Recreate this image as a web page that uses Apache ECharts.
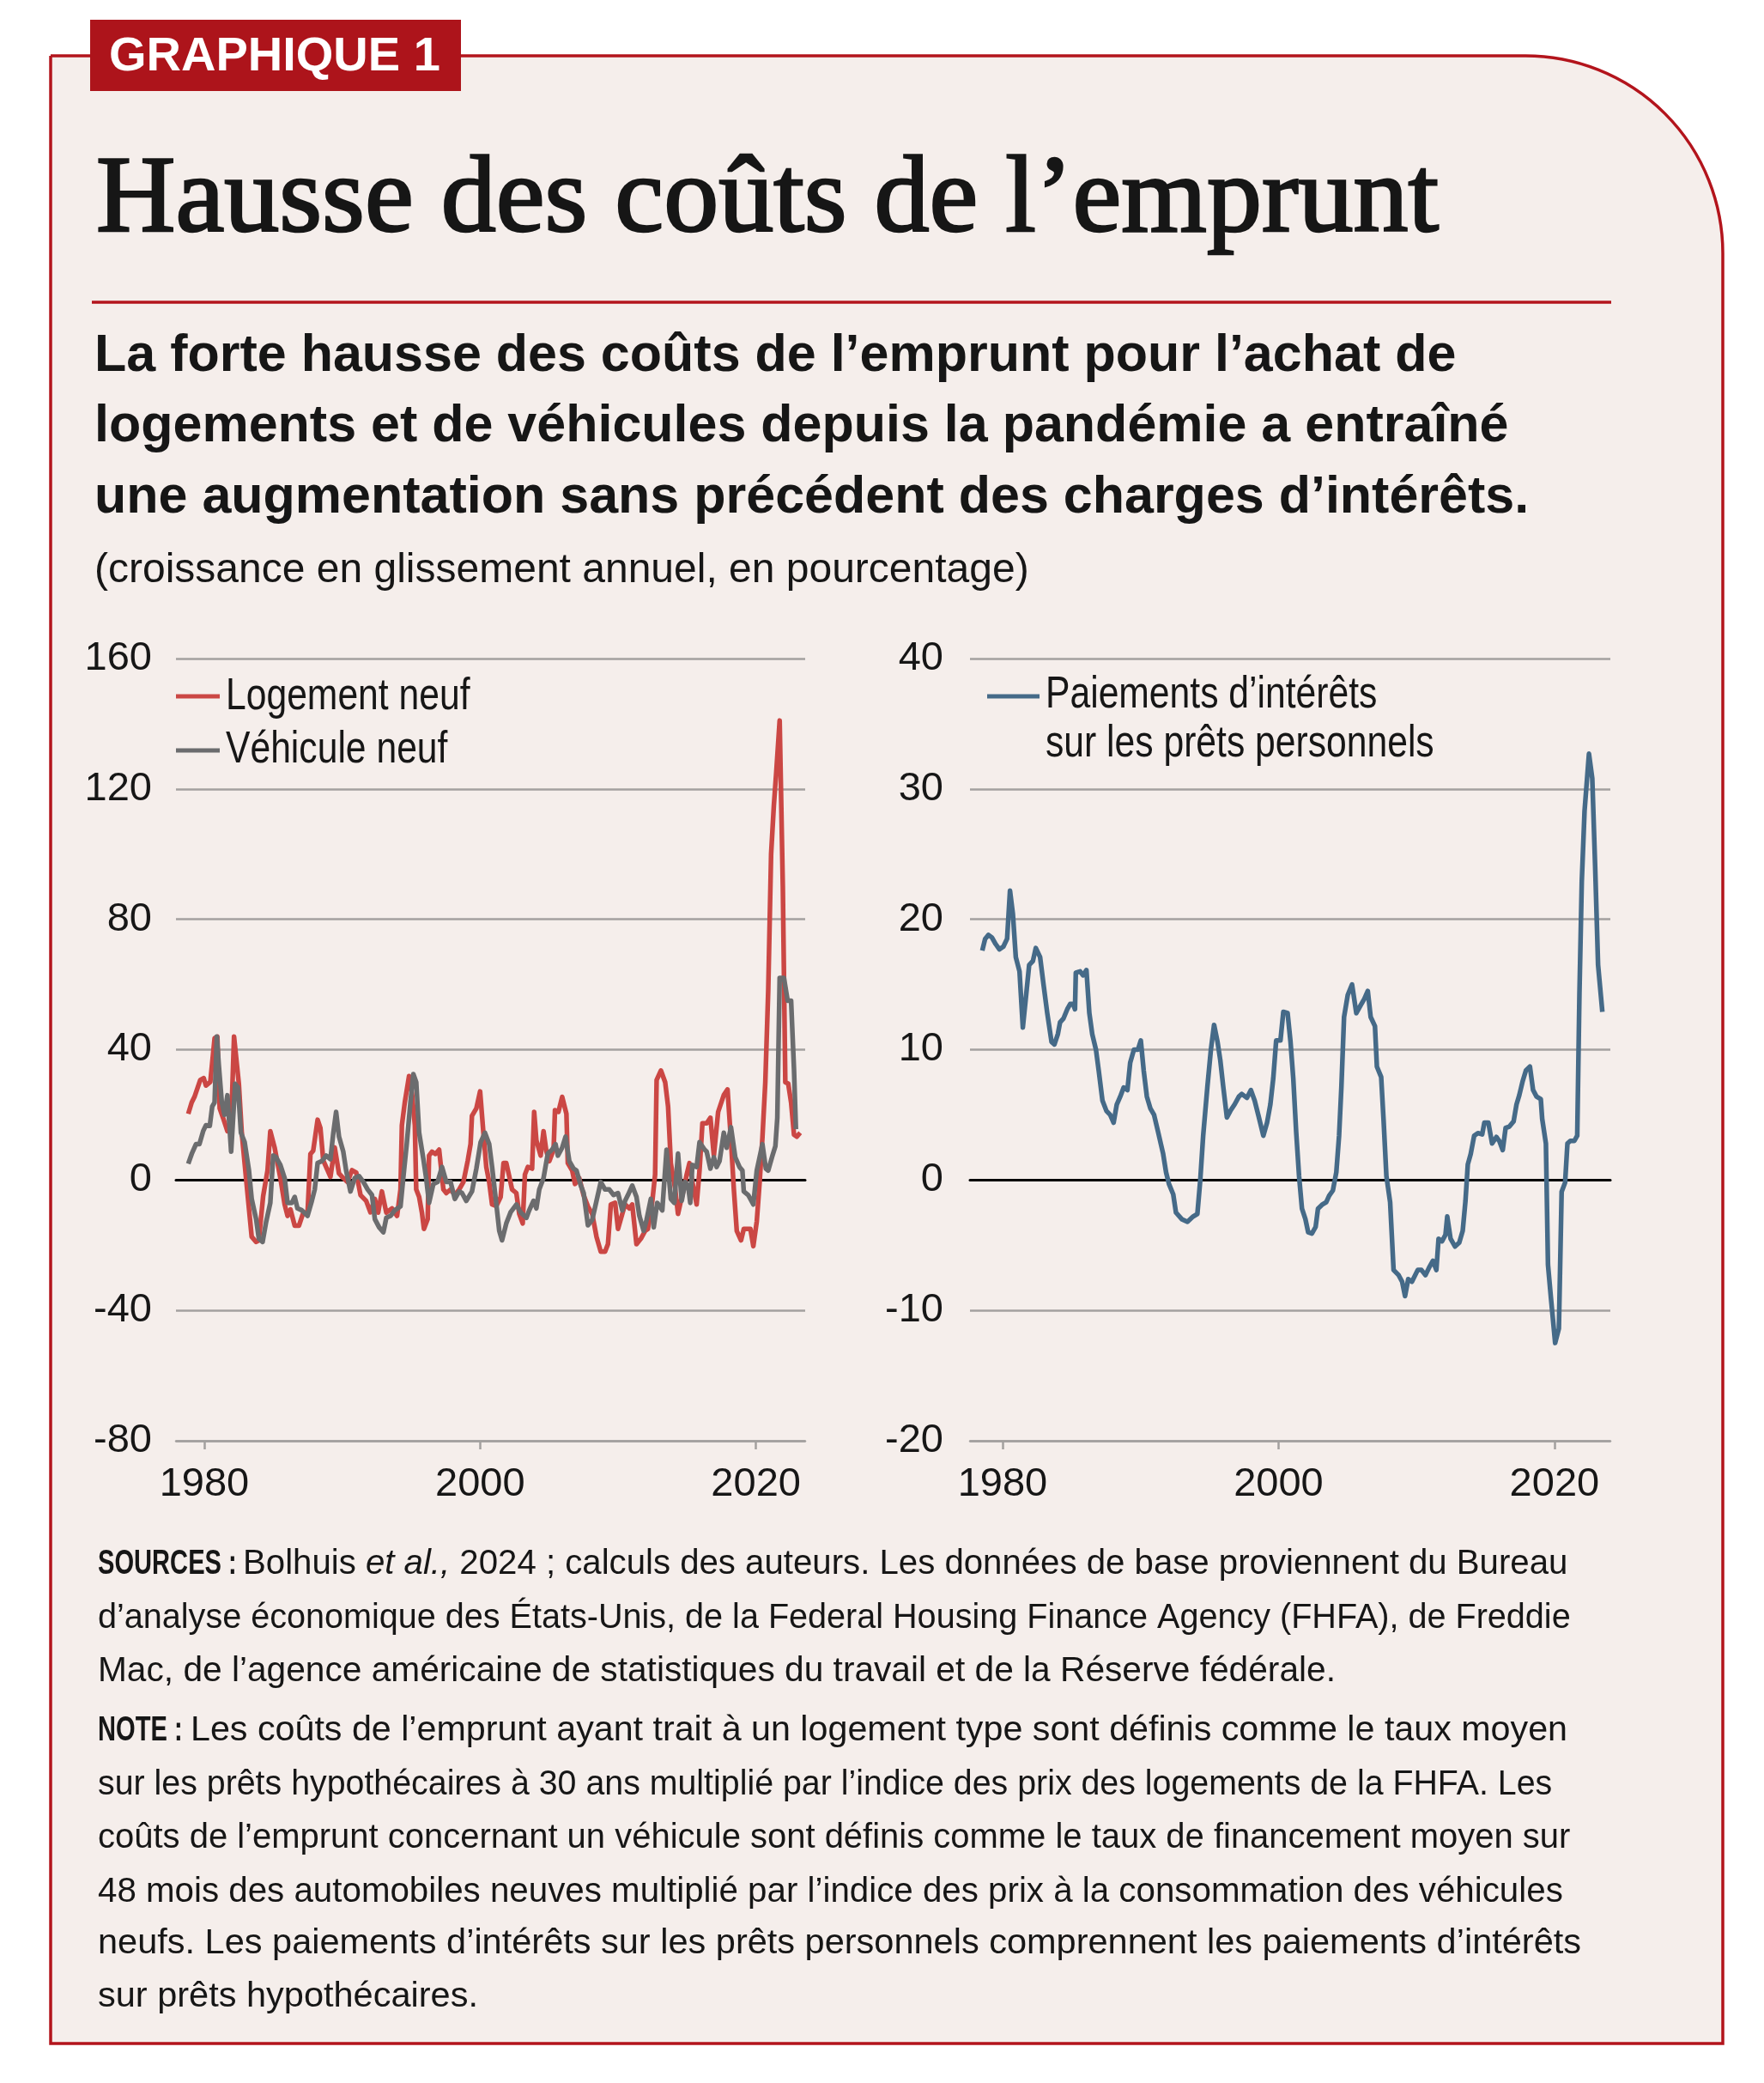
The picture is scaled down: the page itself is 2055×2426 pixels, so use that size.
<!DOCTYPE html>
<html>
<head>
<meta charset="utf-8">
<script src="https://cdn.jsdelivr.net/npm/echarts@6/dist/echarts.min.js"></script>
<style>
html,body{margin:0;padding:0;background:#ffffff;}
#chart{width:2055px;height:2426px;}
</style>
</head>
<body>
<div id="chart"></div>
<script>
// ---------- data (year as decimal, value in %) ----------
const xTickYears = [1980, 2000, 2020];
const leftYRange = { min: -80, max: 160, interval: 40 };
const rightYRange = { min: -20, max: 40, interval: 10 };

const logementNeuf = [
[1978.84,20.3],[1979.09,23.8],[1979.29,25.5],[1979.71,30.7],[1979.96,31.3],[1980.12,29],[1980.44,30.1],[1980.75,43.5],[1980.95,44],[1981.12,22],[1981.37,19],[1981.68,15],[1981.95,17],[1982.16,44],[1982.51,29.5],[1982.72,14.5],[1983.03,0.6],[1983.24,-8.7],[1983.44,-17.4],[1983.76,-19],[1983.96,-18.5],[1984.27,-5],[1984.59,3],[1984.79,15],[1985.1,10],[1985.52,0.6],[1985.83,-7.5],[1986.04,-11],[1986.25,-9],[1986.56,-14],[1986.87,-14],[1987.18,-10],[1987.49,-10],[1987.7,8],[1987.9,9],[1988.22,18.5],[1988.42,16],[1988.63,6],[1988.94,3],[1989.15,1],[1989.46,10],[1989.77,2],[1990.08,0.6],[1990.39,-0.6],[1990.71,3],[1991.02,2.3],[1991.33,-4.6],[1991.74,-6.4],[1992.05,-9.9],[1992.37,-5.8],[1992.61,-10],[1992.88,-3.5],[1993.2,-10],[1993.61,-8.7],[1993.98,-11],[1994.23,-2.9],[1994.33,16.8],[1994.54,23.8],[1994.85,31.9],[1995.06,26.7],[1995.27,16.8],[1995.37,-2.9],[1995.58,-5.2],[1995.78,-9.9],[1995.93,-15],[1996.2,-12],[1996.3,7.5],[1996.51,8.7],[1996.76,8],[1997.03,9.3],[1997.34,-2.9],[1997.55,-4],[1997.86,-2.9],[1998.17,-4.6],[1998.48,-2.9],[1998.79,-0.6],[1999.1,5.8],[1999.31,11],[1999.41,19.7],[1999.73,22],[2000,27.2],[2000.24,14.5],[2000.45,4],[2000.66,-0.6],[2000.87,-7.5],[2001.18,-8],[2001.49,-5.2],[2001.7,5.2],[2001.9,5.2],[2002.11,1.2],[2002.32,-2.9],[2002.63,-4],[2002.84,-10.4],[2003.09,-13.3],[2003.25,1.7],[2003.46,4],[2003.77,3.5],[2003.92,20.9],[2004.08,12.2],[2004.39,7.5],[2004.6,15],[2004.81,8.7],[2005.02,5.8],[2005.33,9.3],[2005.43,21.4],[2005.68,20.9],[2005.95,25.5],[2006.26,20.3],[2006.36,5.2],[2006.68,2.9],[2006.88,-1.2],[2007.19,0.6],[2007.5,-4.6],[2007.82,-8.1],[2008.13,-10.4],[2008.44,-17.4],[2008.75,-22],[2009.06,-22],[2009.27,-19.7],[2009.48,-7.5],[2009.79,-7],[2010,-15],[2010.31,-10.4],[2010.51,-7.5],[2010.83,-8.7],[2011.03,-7.5],[2011.34,-19.7],[2011.66,-18],[2011.97,-15.6],[2012.17,-15],[2012.49,-6.4],[2012.69,1.7],[2012.8,30.7],[2013.11,33.6],[2013.42,30],[2013.63,22.6],[2013.83,5.2],[2014.15,-2.9],[2014.35,-10.4],[2014.56,-6.4],[2014.77,-2.9],[2014.98,1.7],[2015.18,5.2],[2015.39,-0.6],[2015.7,-7.5],[2015.91,2.9],[2016.12,17.4],[2016.43,17.4],[2016.7,19.1],[2016.95,7.5],[2017.26,20.9],[2017.67,26.1],[2017.94,27.8],[2018.19,12.2],[2018.4,-2.9],[2018.61,-15.6],[2018.92,-18.5],[2019.12,-15],[2019.33,-15],[2019.6,-15],[2019.81,-20.3],[2020.06,-12.7],[2020.27,-0.6],[2020.47,13],[2020.68,30],[2020.89,58],[2021.1,100],[2021.3,115],[2021.47,125],[2021.72,141],[2021.95,90],[2022.13,30],[2022.34,29.6],[2022.55,23.8],[2022.76,13.9],[2022.96,13.3],[2023.21,14.5]
];

const vehiculeNeuf = [
[1978.84,5],[1979.09,8],[1979.4,11],[1979.65,11],[1979.92,15],[1980.12,16.8],[1980.4,16.6],[1980.58,22.6],[1980.75,23.8],[1980.91,44],[1981.06,35],[1981.27,24],[1981.47,20],[1981.68,26],[1981.95,8.7],[1982.24,29.5],[1982.45,28.4],[1982.66,14.5],[1982.93,11.6],[1983.24,3],[1983.44,-5.8],[1983.76,-12],[1983.96,-18],[1984.23,-19],[1984.48,-13],[1984.79,-7],[1985,7.5],[1985.21,7],[1985.52,4.6],[1985.83,0.6],[1986.04,-7],[1986.35,-7],[1986.56,-5.2],[1986.76,-8.7],[1987.08,-9.3],[1987.49,-11],[1987.8,-6.4],[1988.01,-2.9],[1988.22,5.2],[1988.53,5.8],[1988.84,7.5],[1989.15,6.4],[1989.36,14.5],[1989.56,20.9],[1989.77,13.3],[1990.08,8.7],[1990.29,2.9],[1990.6,-3.5],[1990.91,0.6],[1991.22,1.2],[1991.54,-0.6],[1991.85,-2.9],[1992.16,-4.6],[1992.37,-12],[1992.68,-14.5],[1992.99,-16],[1993.2,-11.6],[1993.51,-11],[1993.81,-9.3],[1994.23,-8.1],[1994.43,0.6],[1994.68,11],[1994.95,23.8],[1995.16,32.5],[1995.37,30],[1995.58,14.5],[1995.89,6.4],[1996.09,0.6],[1996.3,-7],[1996.61,-1.2],[1996.92,-0.6],[1997.24,4],[1997.55,-0.6],[1997.86,-0.6],[1998.17,-5.8],[1998.48,-3.5],[1998.69,-4],[1999,-6.4],[1999.41,-3.5],[1999.73,3.5],[2000.04,11.6],[2000.35,14.5],[2000.66,11],[2000.87,4],[2001.18,-7.5],[2001.39,-15.6],[2001.59,-18.5],[2001.9,-13.3],[2002.21,-9.9],[2002.63,-7.5],[2002.94,-9.9],[2003.36,-11.6],[2003.56,-9.3],[2003.87,-6.4],[2004.08,-8.7],[2004.29,-2.9],[2004.6,0.6],[2004.91,8.1],[2005.22,9.3],[2005.47,11],[2005.64,7.5],[2005.95,9.9],[2006.2,13.3],[2006.47,5.8],[2006.78,3.5],[2006.99,2.9],[2007.3,-1.7],[2007.51,-4],[2007.82,-13.9],[2008.13,-12.2],[2008.44,-6.4],[2008.75,-0.6],[2009.06,-2.9],[2009.37,-2.9],[2009.68,-4.6],[2010,-4],[2010.31,-9.3],[2010.51,-6.4],[2010.72,-4.6],[2011.03,-1.7],[2011.34,-5.2],[2011.55,-11],[2011.86,-15.6],[2012.07,-12.2],[2012.38,-5.8],[2012.59,-14.5],[2012.84,-7],[2013.21,-9.3],[2013.52,9.3],[2013.83,-5.8],[2014.08,-7],[2014.35,8.1],[2014.62,-6.4],[2014.87,-0.6],[2015.08,-1.7],[2015.24,-7],[2015.39,4.6],[2015.7,4],[2015.91,11.6],[2016.28,9.3],[2016.43,8.7],[2016.7,3.5],[2016.95,7],[2017.15,4],[2017.36,5.8],[2017.67,14.5],[2017.88,9.9],[2018.19,16.2],[2018.5,7],[2018.81,4],[2019.02,2.9],[2019.12,-3.5],[2019.44,-4.6],[2019.81,-7.5],[2020.06,2.9],[2020.47,11],[2020.72,3.5],[2020.89,2.9],[2021.2,7.5],[2021.41,10.4],[2021.55,19.1],[2021.72,62],[2022.03,62],[2022.3,55],[2022.55,55],[2022.76,34],[2022.9,15.6]
];

const paiementsInterets = [
[1978.53,17.6],[1978.74,18.5],[1978.98,18.8],[1979.23,18.6],[1979.5,18.1],[1979.77,17.7],[1980.06,17.9],[1980.33,18.5],[1980.54,22.2],[1980.75,20.4],[1980.96,17.1],[1981.23,16],[1981.47,11.7],[1981.72,14.3],[1981.93,16.5],[1982.2,16.8],[1982.41,17.8],[1982.72,17.1],[1982.97,15],[1983.24,12.8],[1983.55,10.6],[1983.76,10.4],[1984.01,11.2],[1984.17,12.1],[1984.42,12.4],[1984.69,13.1],[1984.9,13.5],[1985.11,13.5],[1985.25,13.1],[1985.31,15.9],[1985.62,16],[1985.83,15.7],[1986.08,16.1],[1986.29,12.8],[1986.5,11.2],[1986.77,10],[1986.97,8.4],[1987.24,6.1],[1987.53,5.3],[1987.8,5],[1988.05,4.4],[1988.28,5.8],[1988.53,6.4],[1988.78,7.1],[1989.05,6.9],[1989.25,9],[1989.52,10],[1989.81,10],[1990.02,10.7],[1990.23,8.4],[1990.46,6.4],[1990.71,5.5],[1990.98,5],[1991.27,3.7],[1991.64,2],[1991.85,0.6],[1992.06,-0.3],[1992.37,-1.1],[1992.57,-2.5],[1992.99,-3],[1993.4,-3.2],[1993.81,-2.8],[1994.12,-2.6],[1994.33,0],[1994.54,3.4],[1994.85,7.2],[1995.1,10],[1995.33,11.9],[1995.58,10.6],[1995.78,9.2],[1995.99,7.2],[1996.26,4.8],[1996.51,5.3],[1996.82,5.8],[1997.13,6.4],[1997.34,6.6],[1997.71,6.3],[1998,6.9],[1998.27,6.1],[1998.58,4.8],[1998.9,3.4],[1999.17,4.4],[1999.41,5.8],[1999.62,7.8],[1999.83,10.7],[2000.14,10.7],[2000.35,12.9],[2000.66,12.8],[2000.87,10.6],[2001.07,7.8],[2001.28,3.7],[2001.49,0.3],[2001.7,-2.2],[2001.95,-3],[2002.15,-4],[2002.42,-4.1],[2002.69,-3.6],[2002.86,-2.2],[2003.15,-1.9],[2003.46,-1.7],[2003.67,-1.2],[2003.94,-0.8],[2004.19,0.6],[2004.39,3.4],[2004.56,7.2],[2004.75,12.5],[2005.02,14.2],[2005.33,15],[2005.64,12.8],[2005.95,13.4],[2006.22,13.9],[2006.47,14.5],[2006.68,12.5],[2006.99,11.8],[2007.13,8.7],[2007.44,7.9],[2007.61,4.7],[2007.82,0.3],[2008.09,-1.7],[2008.34,-6.9],[2008.71,-7.3],[2008.96,-7.8],[2009.17,-8.9],[2009.4,-7.6],[2009.67,-7.8],[2010.09,-6.9],[2010.36,-6.9],[2010.65,-7.3],[2010.92,-6.7],[2011.19,-6.2],[2011.44,-6.9],[2011.6,-4.5],[2011.85,-4.7],[2012.1,-4.2],[2012.23,-2.8],[2012.47,-4.5],[2012.79,-5.1],[2013.1,-4.8],[2013.35,-3.9],[2013.55,-1.6],[2013.72,1.2],[2013.93,2],[2014.18,3.4],[2014.45,3.6],[2014.76,3.5],[2014.92,4.4],[2015.21,4.4],[2015.48,2.8],[2015.79,3.3],[2016,3],[2016.25,2.3],[2016.46,4],[2016.73,4.1],[2017.04,4.5],[2017.25,5.8],[2017.45,6.5],[2017.7,7.6],[2017.93,8.4],[2018.22,8.7],[2018.45,6.9],[2018.7,6.4],[2019.01,6.2],[2019.11,4.7],[2019.38,2.8],[2019.53,-6.5],[2019.74,-9],[2020.05,-12.5],[2020.32,-11.4],[2020.52,-0.9],[2020.77,-0.2],[2020.94,2.8],[2021.15,3],[2021.44,3],[2021.65,3.4],[2021.81,14.3],[2021.98,22.9],[2022.18,28.3],[2022.5,32.7],[2022.74,30.8],[2022.95,24],[2023.16,16.5],[2023.47,12.9]
];

// ---------- styles ----------
const SANS = '"Liberation Sans", Arial, Helvetica, sans-serif';
const SERIF = '"Liberation Serif", "Times New Roman", serif';
const RED = '#b3141c';
const INK = '#161616';
const GRID = '#a3a09f';
const C_LOG = '#cb4744';
const C_VEH = '#6b6c6e';
const C_PAI = '#456a88';
const NARROW_SCALE = 0.82;   // horizontal squeeze used to imitate the condensed face
const FOOT_SIZE = 40.3;

function txt(x, y, text, size, opts) {
  opts = opts || {};
  const el = {
    type: 'text', x: x, y: y, z: 50,
    style: Object.assign({
      text: text, fontSize: size, fontFamily: opts.family || SANS,
      fontWeight: opts.weight || 'normal', fill: opts.fill || INK,
      align: 'left', verticalAlign: 'middle',
      textAlign: 'left', textVerticalAlign: 'middle'
    }, opts.extra || {})
  };
  if (opts.scaleX) { el.scaleX = opts.scaleX; }
  return el;
}

const footRich = {
  i: { fontFamily: SANS, fontStyle: 'italic', fontSize: FOOT_SIZE, fill: INK }
};
function foot(x, y, text, sx) {
  return txt(x, y, text, FOOT_SIZE, { scaleX: sx, extra: { rich: footRich } });
}
function footLabel(y, text) {
  return txt(114, y, text, 41, { weight: 'bold', scaleX: 0.71 });
}

const graphics = [
  { type: 'rect', z: -10, shape: { x: 59, y: 65, width: 1948, height: 2315, r: [0, 230, 0, 0] },
    style: { fill: '#f5eeeb', stroke: RED, lineWidth: 3.5 } },
  { type: 'rect', z: 40, shape: { x: 105, y: 23, width: 432, height: 83 }, style: { fill: '#ad141b' } },
  txt(127, 67, 'GRAPHIQUE 1', 56, { weight: 'bold', fill: '#ffffff' }),
  txt(112, 235, 'Hausse des coûts de l’emprunt', 128, { family: SERIF, extra: { stroke: INK, lineWidth: 2.6 } }),
  { type: 'line', z: 40, shape: { x1: 107, y1: 352, x2: 1877, y2: 352 }, style: { stroke: RED, lineWidth: 3.5 } },
  txt(110, 415, 'La forte hausse des coûts de l’emprunt pour l’achat de', 61, { weight: 'bold' }),
  txt(110, 497, 'logements et de véhicules depuis la pandémie a entraîné', 61, { weight: 'bold' }),
  txt(110, 580, 'une augmentation sans précédent des charges d’intérêts.', 61, { weight: 'bold' }),
  txt(110, 665, '(croissance en glissement annuel, en pourcentage)', 48),
  // legends
  { type: 'line', z: 40, shape: { x1: 205, y1: 811, x2: 256, y2: 811 }, style: { stroke: C_LOG, lineWidth: 5 } },
  txt(263, 812, 'Logement neuf', 52, { scaleX: NARROW_SCALE }),
  { type: 'line', z: 40, shape: { x1: 205, y1: 874, x2: 256, y2: 874 }, style: { stroke: C_VEH, lineWidth: 5 } },
  txt(263, 874, 'Véhicule neuf', 52, { scaleX: NARROW_SCALE }),
  { type: 'line', z: 40, shape: { x1: 1150, y1: 811, x2: 1211, y2: 811 }, style: { stroke: C_PAI, lineWidth: 5 } },
  txt(1218, 810, 'Paiements d’intérêts', 52, { scaleX: NARROW_SCALE }),
  txt(1218, 867, 'sur les prêts personnels', 52, { scaleX: NARROW_SCALE }),
  // footer
  footLabel(1822, 'SOURCES :'),
  foot(283, 1822, 'Bolhuis {i|et al.,} 2024 ; calculs des auteurs. Les données de base proviennent du Bureau', 0.997),
  foot(114, 1885, 'd’analyse économique des États-Unis, de la Federal Housing Finance Agency (FHFA), de Freddie', 0.982),
  foot(114, 1947, 'Mac, de l’agence américaine de statistiques du travail et de la Réserve fédérale.', 1.009),
  footLabel(2016, 'NOTE :'),
  foot(222, 2016, 'Les coûts de l’emprunt ayant trait à un logement type sont définis comme le taux moyen', 1.023),
  foot(114, 2079, 'sur les prêts hypothécaires à 30 ans multiplié par l’indice des prix des logements de la FHFA. Les', 0.976),
  foot(114, 2141, 'coûts de l’emprunt concernant un véhicule sont définis comme le taux de financement moyen sur', 0.992),
  foot(114, 2204, '48 mois des automobiles neuves multiplié par l’indice des prix à la consommation des véhicules', 1.0),
  foot(114, 2264, 'neufs. Les paiements d’intérêts sur les prêts personnels comprennent les paiements d’intérêts', 1.03),
  foot(114, 2326, 'sur prêts hypothécaires.', 1.03)
];

const plainNum = v => String(Math.round(v));

function mainX(gridIndex, min, max) {
  return {
    type: 'value', gridIndex: gridIndex, min: min, max: max, position: 'bottom',
    axisLine: { show: true, onZero: false, lineStyle: { color: GRID, width: 2.5 } },
    axisTick: { show: true, customValues: xTickYears, length: 10, lineStyle: { color: GRID, width: 2.5 } },
    axisLabel: { show: true, customValues: xTickYears, formatter: plainNum, margin: 28,
                 fontSize: 47, fontFamily: SANS, color: INK },
    splitLine: { show: false }
  };
}
function zeroX(gridIndex, min, max) {
  return {
    type: 'value', gridIndex: gridIndex, min: min, max: max, position: 'top',
    axisLine: { show: true, onZero: true, lineStyle: { color: '#000000', width: 3 } },
    axisTick: { show: false }, axisLabel: { show: false }, splitLine: { show: false }
  };
}
function yAx(gridIndex, range, margin) {
  return {
    type: 'value', gridIndex: gridIndex, min: range.min, max: range.max, interval: range.interval,
    axisLine: { show: false }, axisTick: { show: false },
    axisLabel: { margin: margin, fontSize: 47, fontFamily: SANS, color: INK, formatter: plainNum },
    splitLine: { show: true, lineStyle: { color: GRID, width: 2.5 } }
  };
}

const lineSeries = (name, data, xi, yi, color) => ({
  name: name, type: 'line', xAxisIndex: xi, yAxisIndex: yi, data: data,
  showSymbol: false, symbol: 'none', smooth: false, animation: false,
  lineStyle: { color: color, width: 5.5, join: 'round', cap: 'butt' }, z: 3
});

const option = {
  animation: false,
  graphic: graphics,
  grid: [
    { left: 205, top: 767, width: 733, height: 911 },
    { left: 1130, top: 767, width: 746, height: 911 }
  ],
  xAxis: [
    mainX(0, 1977.95, 2023.57),
    zeroX(0, 1977.95, 2023.57),
    mainX(1, 1977.64, 2024.05),
    zeroX(1, 1977.64, 2024.05)
  ],
  yAxis: [yAx(0, leftYRange, 28), yAx(1, rightYRange, 31)],
  series: [
    lineSeries('Logement neuf', logementNeuf, 0, 0, C_LOG),
    lineSeries('Véhicule neuf', vehiculeNeuf, 0, 0, C_VEH),
    lineSeries('Paiements d’intérêts sur les prêts personnels', paiementsInterets, 2, 1, C_PAI)
  ]
};

const chart = echarts.init(document.getElementById('chart'), null, { renderer: 'canvas', width: 2055, height: 2426 });
chart.setOption(option);
</script>
</body>
</html>
